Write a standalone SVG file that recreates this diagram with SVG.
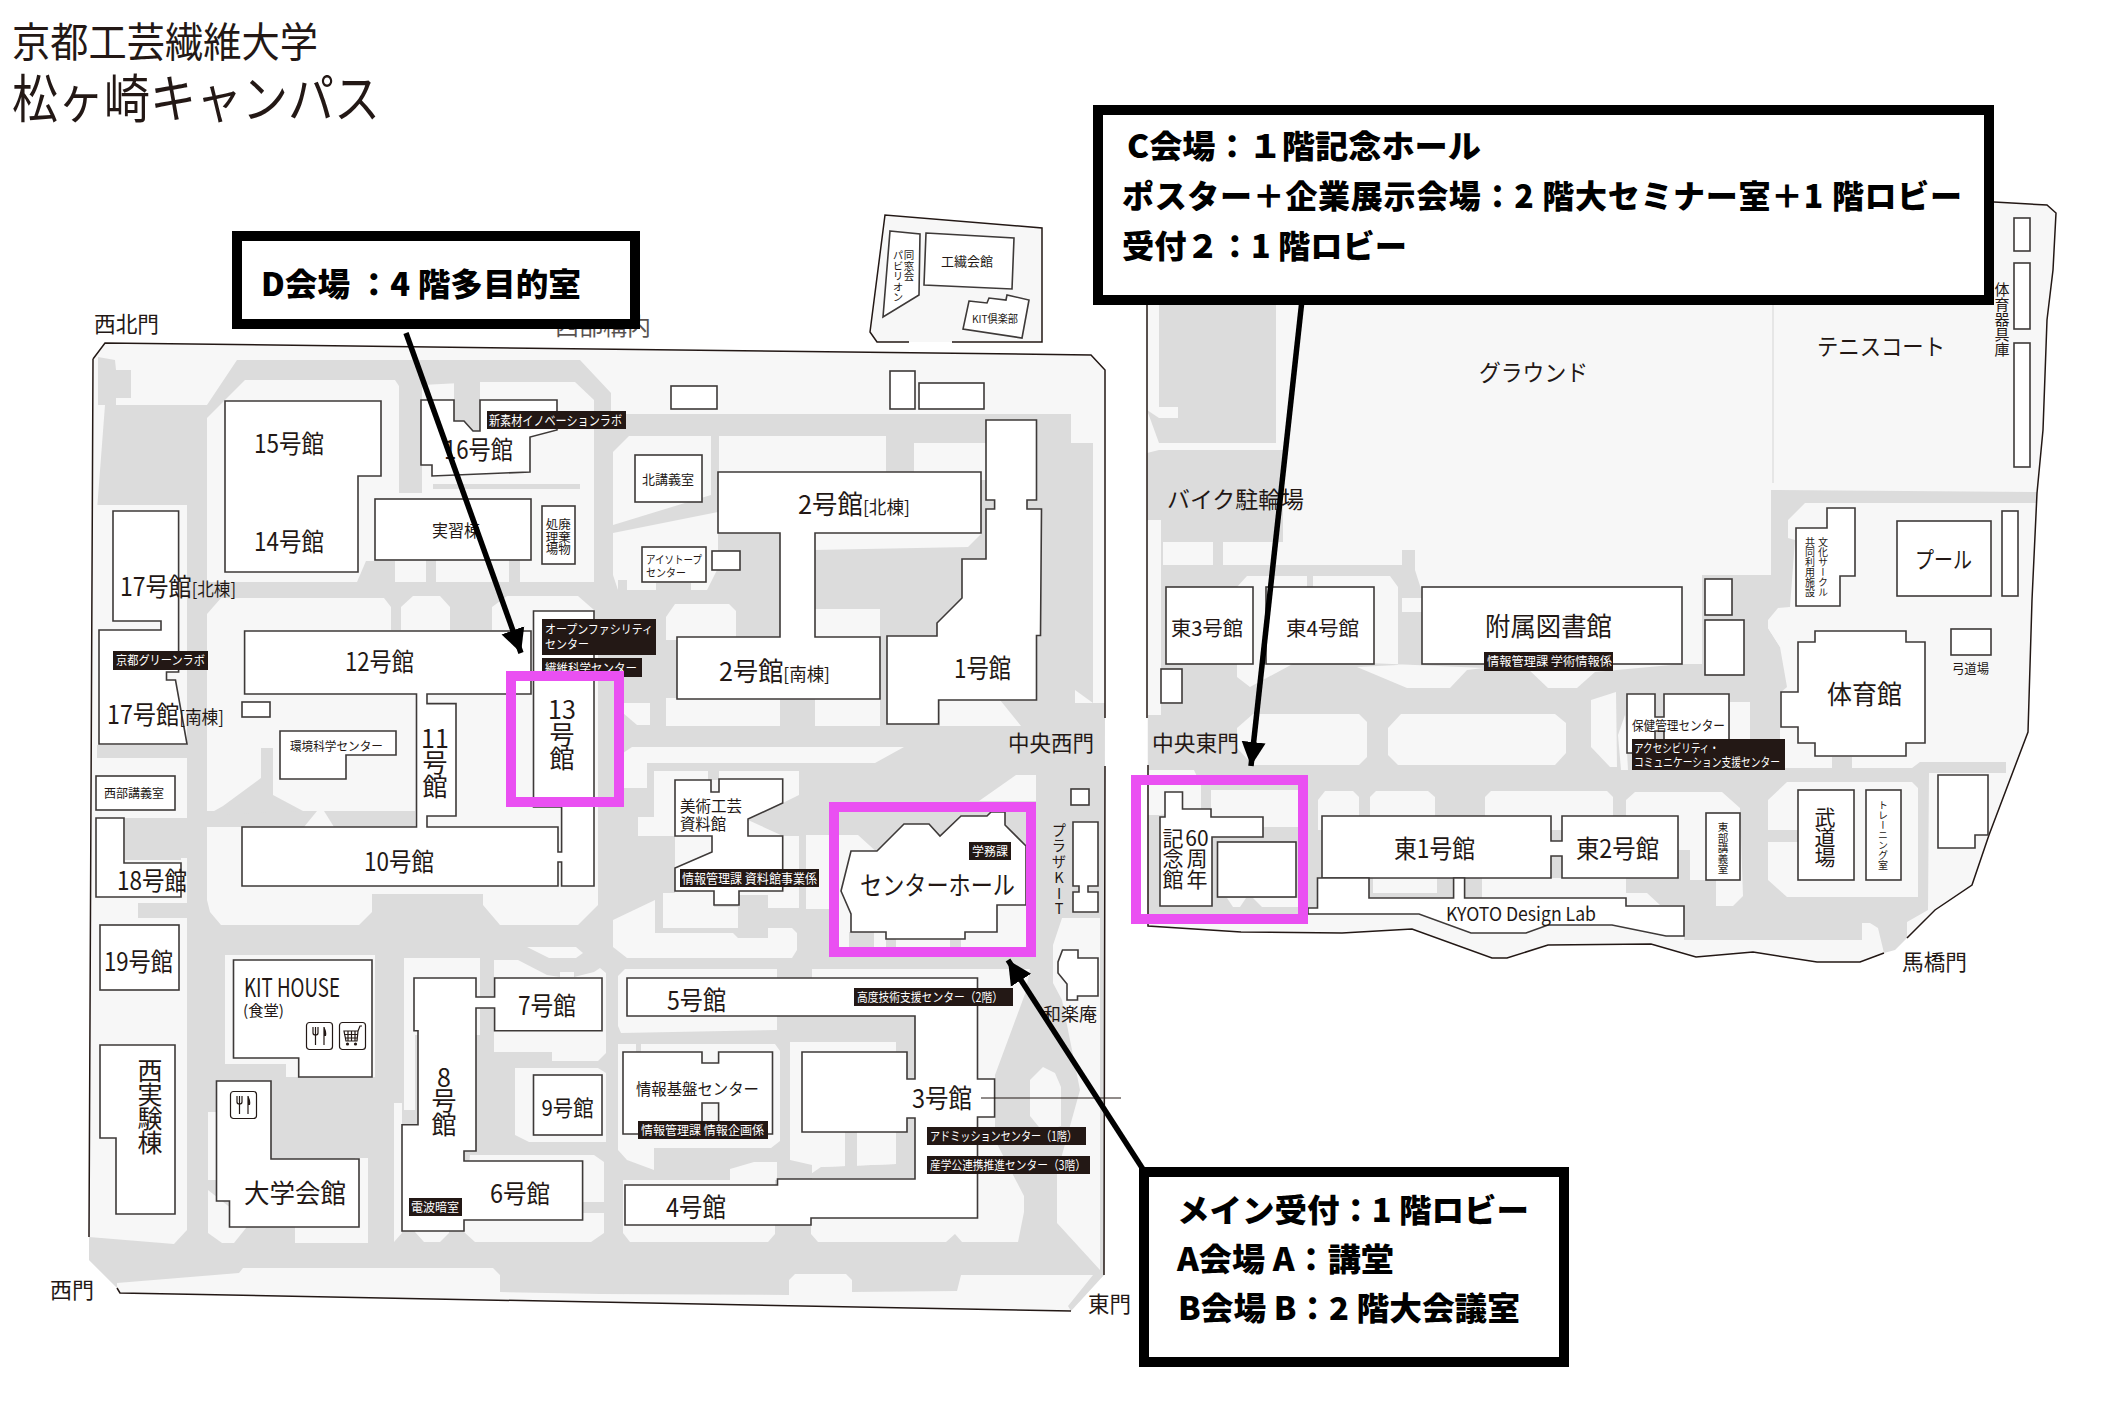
<svg xmlns="http://www.w3.org/2000/svg" width="2104" height="1426" viewBox="0 0 2104 1426">
<style>
text{font-family:"Noto Sans CJK JP","Noto Sans",sans-serif;fill:#231815;font-weight:400}
.w{fill:#fff}
.c{font-weight:900;fill:#000;font-size:32px}
.m{text-anchor:middle}
.v{writing-mode:vertical-rl}
.u{text-orientation:upright}
.bd{fill:#fff;stroke:#3e3a39;stroke-width:1.6;stroke-linejoin:miter}
.lab{fill:#231815}
.g{fill:#dcdcdc}
.l{fill:#f7f7f7}
.out{fill:none;stroke:#231815;stroke-width:1.5}
.pink{fill:none;stroke:#ea50f2;stroke-width:10}
.box{fill:#fff;stroke:#000;stroke-width:10}
.arr{fill:none;stroke:#000;stroke-width:5.5;marker-end:url(#ah)}
.ic{fill:none;stroke:#231815;stroke-width:1.2}
</style>
<defs>
<marker id="ah" markerUnits="userSpaceOnUse" markerWidth="26" markerHeight="26" refX="24" refY="13" orient="auto"><path d="M0,1 L24,13 L0,25 z" fill="#000"/></marker>
<g id="fork"><rect x="0.5" y="0.5" width="26" height="27" rx="3" class="ic"/><path d="M9.5,5 V23 M7,5 V11 Q7,13 9.5,13 Q12,13 12,11 V5 M18,5 V23" class="ic"/><path d="M18,5 Q21,9 20,14 H18 z" fill="#231815"/></g>
<g id="cart"><rect x="0.5" y="0.5" width="26" height="27" rx="3" class="ic"/><path d="M5,9 H19 L18,19 H7 z M5,12.5 H19 M6,16 H18.5 M9,9 V19 M12.5,9 V19 M16,9 V19 M19,9 L21,4 H23" class="ic"/><circle cx="8.5" cy="22" r="1.6" fill="#231815"/><circle cx="16.5" cy="22" r="1.6" fill="#231815"/></g>
</defs>

<g id="title">
<text x="12" y="57" font-size="41" textLength="306" lengthAdjust="spacingAndGlyphs">京都工芸繊維大学</text>
<text x="12" y="118" font-size="52" textLength="368" lengthAdjust="spacingAndGlyphs">松ヶ崎キャンパス</text>
</g>

<g id="grounds-west">
<polygon class="l" points="93,359 105,343 1091,355 1105,370 1104,1275 1071,1311 120,1293 117,1288 89,1260 89,1237"/>
<polygon class="g" points="89,1237 89,1260 117,1288 117,1283 239,1273 243,1268 493,1268 500,1275 500,1292 600,1294 789,1295 789,1280 795,1274 846,1274 852,1280 852,1292 957,1291 961,1275 1093,1275 1068,1306 1071,1311 1104,1275 1105,703 1093,703 1093,443 1071,443 1071,414 611,414 611,393 580,360 237,360 207,405 105,405 97,510 97,1237"/>
<polygon class="g" points="98,357 115,360 116,370 131,370 131,398 116,398 116,405 98,405"/>
<polygon class="l" points="94,505 187,505 187,1230 174,1244 89,1237"/>
<rect class="g" x="97" y="745" width="90" height="13"/>
<polygon class="g" points="125,818 187,818 187,858 181,858 181,860 125,860"/>
<rect class="g" x="138" y="903" width="49" height="15"/>
<polygon class="l" points="207,418 245,380 395,380 399,386 399,493 422,493 422,385 480,382 575,382 594,400 594,582 207,582"/>
<polygon class="g" points="454,382 480,382 480,431 473,431 464,421 454,421"/>
<rect class="g" x="433" y="484" width="147" height="5"/>
<polygon class="g" points="357,582 366,561 395,561 395,582"/>
<rect class="g" x="426" y="560" width="10" height="22"/>
<rect class="g" x="509" y="560" width="11" height="22"/>
<polygon class="l" points="207,614 221,598 384,598 391,607 391,630 401,630 401,607 413,596 440,596 450,607 450,630 492,630 492,607 507,596 578,596 594,610 598,640 598,905 578,925 500,925 483,905 483,894 372,894 372,912 359,925 221,925 210,912 207,900"/>
<rect class="g" x="207" y="811" width="208" height="16"/>
<polygon class="g" points="207,815 223,806 261,778 261,748 273,748 273,795 303,811"/>
<polygon class="l" points="304,827 317,811 324,811 334,827"/>
<polygon class="l" points="613,452 629,436 711,436 711,495 613,525"/>
<polygon class="l" points="719,436 886,436 886,480 719,480"/>
<polygon class="l" points="914,443 986,443 986,480 914,480"/>
<polygon class="l" points="814,533 982,533 968,547 814,550"/>
<rect class="l" x="814" y="609" width="66" height="30"/>
<polygon class="l" points="613,533 718,512 718,568 707,590 691,590 691,583 656,583 656,590 627,590 627,580 618,580 618,590 613,575"/>
<polygon class="l" points="666,617 675,604 729,604 736,611 736,640 666,640"/>
<rect class="l" x="666" y="698" width="114" height="28"/>
<rect class="l" x="815" y="698" width="65" height="28"/>
<polygon class="l" points="940,700 1000,700 1021,726 940,726"/>
<polygon class="l" points="623,703 650,703 650,725 637,725 623,713"/>
<polygon class="l" points="1075,703 1093,703 1075,690"/>
<polygon class="l" points="620,755 632,747 904,747 875,763 647,763 647,788 620,788"/>
<polygon class="l" points="654,771 708,771 708,780 719,780 719,771 799,771 799,795 748,820 783,836 799,836 799,908 783,908 783,895 675,895 675,836 638,836 638,817 654,817"/>
<polygon class="l" points="613,920 655,900 655,933 733,933 738,938 768,938 768,928 792,928 797,933 797,950 792,958 627,958 613,947"/>
<polygon class="l" points="663,893 714,893 714,907 738,907 738,928 663,928"/>
<polygon class="l" points="768,892 783,892 783,908 768,908"/>
<polygon class="l" points="806,835 858,835 880,855 880,905 1030,905 1030,955 839,955 839,909 806,909"/>
<rect class="g" x="886" y="939" width="10" height="9"/>
<rect class="g" x="950" y="939" width="11" height="9"/>
<rect class="g" x="849" y="932" width="25" height="16"/>
<polygon class="l" points="979,801 1016,775 1036,775 1036,801"/>
<polygon class="l" points="625,969 777,969 777,1030 621,1033 618,1026 618,976"/>
<polygon class="l" points="812,969 1030,969 1025,994 995,1075 995,1140 1024,1196 1024,1212 1018,1242 962,1242 955,1234 955,1212 812,1200"/>
<polygon class="g" points="777,1014 915,1014 915,1178 805,1178 821,1167 896,1164 896,1042 790,1042 790,1160 777,1160"/>
<polygon class="l" points="790,1042 896,1042 896,1164 821,1167 790,1160"/>
<rect class="g" x="845" y="1132" width="12" height="36"/>
<polygon class="l" points="618,1044 775,1044 780,1051 780,1141 771,1148 654,1148 654,1170 627,1160 618,1150"/>
<rect class="g" x="636" y="1042" width="5" height="10"/>
<polygon class="l" points="730,1169 754,1162 777,1162 777,1180 730,1180"/>
<polygon class="l" points="623,1180 775,1180 775,1234 768,1242 630,1242 623,1233"/>
<polygon class="l" points="811,1210 955,1210 955,1234 946,1242 818,1242 811,1234"/>
<polygon class="l" points="404,958 480,958 480,1035 415,1035 415,1110 404,1110"/>
<polygon class="l" points="494,960 518,960 547,975 560,977 560,972 574,972 574,977 594,972 600,968 606,973 606,1053 598,1061 552,1061 552,1052 494,1052"/>
<polygon class="l" points="527,947 576,947 583,953 576,958 549,958"/>
<polygon class="l" points="515,1068 598,1068 606,1073 606,1142 529,1142 515,1135"/>
<polygon class="l" points="394,1103 402,1103 402,1233 394,1242"/>
<polygon class="l" points="415,1225 449,1225 449,1233 440,1242 424,1242 415,1232"/>
<polygon class="l" points="464,1225 470,1155 594,1155 604,1162 604,1233 591,1242 475,1242 464,1232"/>
<rect class="g" x="583" y="1202" width="21" height="11"/>
<polygon class="l" points="225,955 375,955 375,1077 286,1077 286,1064 225,1064"/>
<rect class="l" x="208" y="1112" width="12" height="68"/>
<polygon class="l" points="208,1190 246,1220 246,1228 234,1243 222,1243 208,1233"/>
<rect class="l" x="295" y="1222" width="73" height="21"/>
<rect class="l" x="355" y="1158" width="13" height="70"/>
<polygon class="l" points="1062,918 1100,918 1100,1270 1057,1223 1057,1173 1080,1090 1062,1000 1053,983 1053,945"/>
<polygon class="l" points="1043,1067 1055,1073 1061,1087 1061,1126 1043,1132 1030,1116 1030,1080"/>
<path class="out" d="M93,359 L105,343 L1091,355 L1105,370 L1105,718 M1105,766 L1104,1275 M1071,1311 L120,1293 L117,1288 M89,1237 L93,359"/>
</g>

<g id="grounds-east">
<polygon class="l" points="1147,250 1147,926 1241,932 1342,933 1412,929 1492,958 1507,958 1548,945 1651,944 1696,957 1753,952 1817,962 1860,962 1884,953 1907,938 1935,910 1972,885 1989,835 2028,732 2032,600 2037,493 2043,430 2047,320 2053,270 2056,213 2047,205 1994,202"/>
<rect class="g" x="1159" y="305" width="117" height="138"/>
<polygon class="g" points="1147,410 1159,418 1159,443 1147,410"/>
<rect class="l" x="1159" y="407" width="19" height="11"/>
<polygon class="g" points="1147,453 1159,450 1283,450 1283,565 1402,565 1402,550 1415,550 1415,570 1422,592 1422,664 1702,664 1702,575 1771,575 1771,490 2037,492 2037,503 1805,503 1788,520 1788,538 1795,540 1790,607 1778,608 1768,620 1768,628 1780,647 1787,687 1780,693 1780,768 1832,768 1832,757 1852,757 1852,768 1912,768 1920,762 2006,762 2006,773 1929,773 1928,910 1907,922 1907,938 1895,950 1884,953 1878,928 1870,923 1862,923 1862,940 1684,940 1684,905 1660,905 1647,893 1626,893 1300,915 1148,915 1148,520 1161,520 1161,535 1147,520"/>
<rect class="l" x="1163" y="542" width="50" height="23"/>
<rect class="l" x="1223" y="542" width="60" height="23"/>
<rect class="l" x="1148" y="520" width="13" height="195"/>
<rect class="l" x="1161" y="690" width="21" height="14"/>
<polygon class="l" points="1237,587 1247,576 1307,576 1307,587 1313,587 1313,576 1390,576 1398,587 1398,665 1357,667 1407,688 1450,688 1467,670 1484,668 1300,660 1250,687 1237,677"/>
<rect class="l" x="1402" y="598" width="20" height="14"/>
<polygon class="l" points="1527,668 1548,688 1577,688 1595,672 1682,664 1520,664"/>
<polygon class="l" points="1237,728 1253,714 1359,714 1367,722 1367,757 1359,765 1253,765 1237,748"/>
<polygon class="l" points="1388,728 1401,714 1555,714 1566,723 1566,753 1555,765 1398,765 1388,755"/>
<polygon class="l" points="1591,700 1616,692 1617,767 1610,767 1591,747"/>
<polygon class="l" points="1621,770 1618,735 1625,715 1628,770"/>
<polygon class="l" points="1730,702 1750,702 1750,767 1730,767"/>
<polygon class="l" points="1785,727 1798,745 1832,757 1832,768 1785,768"/>
<polygon class="l" points="1768,628 1778,612 1790,607 1800,628 1790,638 1780,647"/>
<polygon class="l" points="1148,770 1194,770 1201,785 1201,809 1160,815 1148,815"/>
<polygon class="l" points="1211,790 1298,790 1298,827 1211,827"/>
<polygon class="l" points="1227,898 1246,898 1240,907 1233,907"/>
<polygon class="l" points="1253,898 1298,898 1298,907 1262,907"/>
<polygon class="l" points="1318,800 1325,791 1353,791 1359,797 1359,830 1318,830"/>
<polygon class="l" points="1370,797 1376,791 1428,791 1435,797 1435,830 1370,830"/>
<polygon class="l" points="1485,797 1491,791 1607,791 1613,797 1613,830 1485,830"/>
<polygon class="l" points="1626,800 1635,792 1722,792 1740,808 1743,896 1733,906 1716,906 1716,880 1690,880 1690,850 1626,850"/>
<rect class="l" x="1373" y="878" width="64" height="15"/>
<rect class="l" x="1482" y="878" width="144" height="20"/>
<polygon class="l" points="1768,800 1787,782 1912,782 1918,788 1918,897 1787,897 1768,880 1768,842 1798,842 1798,830 1768,830"/>
<rect x="1772" y="305" width="2" height="178" fill="#e6e6e6"/>
<path class="out" d="M1147,305 V718 M1148,765 V926 L1241,932 L1342,933 L1412,929 L1492,958 L1507,958 L1548,945 L1651,944 L1696,957 L1753,952 L1817,962 L1860,962 L1884,953 M1907,938 L1935,910 L1972,885 L1989,835 L2028,732 L2032,600 L2037,493 L2043,430 L2047,320 L2053,270 L2056,213 L2047,205 L1994,202"/>
</g>

<g id="annex">
<path d="M885,215 L1042,228 V342 H877 L870,332 Z" class="l"/>
<path class="out" d="M909,342 H877 L870,332 L885,215 L1042,228 V342 H952"/>
<polygon class="bd" points="890,231 920,234 919,295 883,317"/>
<text x="909" y="250" class="v" font-size="10.5">同窓会</text>
<text x="898" y="250" class="v" font-size="10.5">パビリオン</text>
<polygon class="bd" points="926,233 1014,238 1012,289 924,285"/>
<text x="941" y="266" font-size="13" textLength="52" lengthAdjust="spacingAndGlyphs">工繊会館</text>
<polygon class="bd" points="969,301 987,303 989,298 1006,300 1007,295 1029,300 1022,338 963,329"/>
<text x="972" y="323" font-size="11" textLength="46" lengthAdjust="spacingAndGlyphs">KIT倶楽部</text>
</g>

<g id="gate-labels">
<text x="94" y="332" font-size="22" textLength="65" lengthAdjust="spacingAndGlyphs">西北門</text>
<text x="555" y="335" font-size="24" textLength="96" lengthAdjust="spacingAndGlyphs" opacity=".75">西部構内</text>
<text x="1008" y="751" font-size="22" textLength="86" lengthAdjust="spacingAndGlyphs">中央西門</text>
<text x="1088" y="1312" font-size="22" textLength="43" lengthAdjust="spacingAndGlyphs">東門</text>
<text x="50" y="1298" font-size="22" textLength="44" lengthAdjust="spacingAndGlyphs">西門</text>
<text x="1152" y="751" font-size="22" textLength="87" lengthAdjust="spacingAndGlyphs">中央東門</text>
<text x="1902" y="970" font-size="22" textLength="65" lengthAdjust="spacingAndGlyphs">馬橋門</text>
<text x="1059" y="823" class="v u" font-size="14.5" letter-spacing="1.2">プラザKIT</text>
</g>

<g id="n-rects">
<rect class="bd" x="671" y="386" width="46" height="23"/>
<rect class="bd" x="890" y="371" width="25" height="38"/>
<rect class="bd" x="919" y="383" width="65" height="26"/>
<rect class="bd" x="242" y="702" width="28" height="15"/>
<rect class="bd" x="712" y="551" width="28" height="19"/>
<rect class="bd" x="1071" y="789" width="18" height="16"/>
<rect class="bd" x="1161" y="669" width="21" height="34"/>
<rect class="bd" x="1705" y="579" width="27" height="36"/>
<rect class="bd" x="1705" y="620" width="39" height="55"/>
<rect class="bd" x="2014" y="218" width="16" height="33"/>
<rect class="bd" x="2014" y="263" width="16" height="66"/>
<rect class="bd" x="2014" y="343" width="16" height="124"/>
<rect class="bd" x="2002" y="511" width="16" height="85"/>
<polygon class="bd" points="1938,775 1988,775 1988,835 1975,835 1975,848 1938,848"/>
<polygon class="bd" points="1073,822 1098,822 1098,886 1088,886 1088,892 1098,892 1098,912 1073,912 1073,892 1079,892 1079,886 1073,886"/>
</g>

<g id="b15-14">
<polygon class="bd" points="225,401 381,401 381,476 358,476 358,572 225,572"/>
<text x="254" y="453" font-size="25" textLength="70" lengthAdjust="spacingAndGlyphs">15号館</text>
<text x="254" y="551" font-size="25" textLength="70" lengthAdjust="spacingAndGlyphs">14号館</text>
</g>
<g id="b16">
<polygon class="bd" points="421,400 454,400 454,421 464,421 473,431 480,431 480,400 557,400 557,430 530,437 530,472 432,476 432,465 421,465"/>
<text x="444" y="459" font-size="25" textLength="69" lengthAdjust="spacingAndGlyphs">16号館</text>
<rect class="lab" x="487" y="411" width="139" height="18"/>
<text x="489" y="425" class="w" font-size="13" textLength="133" lengthAdjust="spacingAndGlyphs">新素材イノベーションラボ</text>
</g>
<g id="jisshu">
<rect class="bd" x="375" y="499" width="156" height="61"/>
<text x="432" y="537" font-size="17" textLength="48" lengthAdjust="spacingAndGlyphs">実習棟</text>
</g>
<g id="haiki">
<rect class="bd" x="542" y="506" width="33" height="58"/>
<text x="564.5" y="518" class="v" font-size="12.5">廃棄物</text>
<text x="552" y="518" class="v" font-size="12.5">処理場</text>
</g>
<g id="kita">
<rect class="bd" x="635" y="455" width="67" height="47"/>
<text x="642" y="484" font-size="13" textLength="52" lengthAdjust="spacingAndGlyphs">北講義室</text>
</g>
<g id="iso">
<rect class="bd" x="642" y="547" width="64" height="35"/>
<text x="646" y="564" font-size="11" textLength="56" lengthAdjust="spacingAndGlyphs">アイソトープ</text>
<text x="646" y="577" font-size="11" textLength="40" lengthAdjust="spacingAndGlyphs">センター</text>
</g>
<g id="b2">
<polygon class="bd" points="718,472 981,472 981,533 815,533 815,637 880,637 880,699 677,699 677,637 780,637 780,533 718,533"/>
<text x="798" y="514" font-size="26" textLength="112" lengthAdjust="spacingAndGlyphs">2号館<tspan font-size="18">[北棟]</tspan></text>
<text x="719" y="681" font-size="26" textLength="111" lengthAdjust="spacingAndGlyphs">2号館<tspan font-size="18">[南棟]</tspan></text>
</g>
<g id="b1">
<polygon class="bd" points="986,420 1036.5,420 1036.5,500 1027,500 1027,509 1041.5,509 1040.5,635.5 1036.5,635.5 1036.5,700 938.6,700 938.6,724 887,724 887,636 937,636 937,623 962,598 962,559 986,559 986,509 994.6,509 994.6,500 986,500"/>
<text x="954" y="678" font-size="26" textLength="57" lengthAdjust="spacingAndGlyphs">1号館</text>
</g>
<g id="b17">
<polygon class="bd" points="113,511 178.6,511 178.6,672 166.5,672 166.5,680 175.5,680 187,744 99,744 99,630 161,630 161,621 113,621"/>
<text x="120" y="596" font-size="25" textLength="116" lengthAdjust="spacingAndGlyphs">17号館<tspan font-size="18">[北棟]</tspan></text>
<rect class="lab" x="113" y="651" width="95" height="19"/>
<text x="116" y="665" class="w" font-size="12.5" textLength="89" lengthAdjust="spacingAndGlyphs">京都グリーンラボ</text>
<text x="107" y="724" font-size="25" textLength="117" lengthAdjust="spacingAndGlyphs">17号館<tspan font-size="18">[南棟]</tspan></text>
</g>
<g id="b10-13">
<path class="bd" d="M533.5,611 H594 V886 H561.6 V862 H558 V886 H242 V827 H416.5 V694 H244.6 V631 H531 V694 H427 V703.6 H456 V816 H427 V827 H558 V852 H561.6 V807 H533.5 Z"/>
<text x="345" y="671" font-size="25" textLength="69" lengthAdjust="spacingAndGlyphs">12号館</text>
<text x="364" y="871" font-size="25" textLength="70" lengthAdjust="spacingAndGlyphs">10号館</text>
<text class="m" font-size="25"><tspan x="562" y="719">13</tspan><tspan x="562" y="744">号</tspan><tspan x="562" y="768">館</tspan></text>
<text class="m" font-size="25"><tspan x="435" y="748">11</tspan><tspan x="435" y="772">号</tspan><tspan x="435" y="796">館</tspan></text>
<rect class="lab" x="542" y="619" width="114" height="36"/>
<text x="545" y="634" class="w" font-size="12" textLength="108" lengthAdjust="spacingAndGlyphs">オープンファシリティ</text>
<text x="545" y="649" class="w" font-size="12" textLength="44" lengthAdjust="spacingAndGlyphs">センター</text>
<rect class="lab" x="542" y="658" width="100" height="19"/>
<text x="545" y="673" class="w" font-size="12.5" textLength="92" lengthAdjust="spacingAndGlyphs">繊維科学センター</text>
</g>
<g id="kankyo">
<polygon class="bd" points="280,731 396,731 396,755 346,755 346,779 280,779"/>
<text x="290" y="751" font-size="12.5" textLength="93" lengthAdjust="spacingAndGlyphs">環境科学センター</text>
</g>
<g id="seibu">
<rect class="bd" x="96" y="776" width="79" height="34"/>
<text x="104" y="798" font-size="12.5" textLength="60" lengthAdjust="spacingAndGlyphs">西部講義室</text>
</g>
<g id="b18">
<polygon class="bd" points="96,818 124,818 124,863 181,863 181,897 96,897"/>
<text x="117" y="890" font-size="25" textLength="70" lengthAdjust="spacingAndGlyphs">18号館</text>
</g>
<g id="b19">
<rect class="bd" x="100" y="925" width="79" height="65"/>
<text x="104" y="971" font-size="25" textLength="69" lengthAdjust="spacingAndGlyphs">19号館</text>
</g>
<g id="nishi">
<polygon class="bd" points="100,1045 175,1045 175,1214 116,1214 116,1138 100,1138"/>
<text class="m" font-size="25"><tspan x="150" y="1080">西</tspan><tspan x="150" y="1104">実</tspan><tspan x="150" y="1128">験</tspan><tspan x="150" y="1152">棟</tspan></text>
</g>
<g id="kithouse">
<polygon class="bd" points="233.5,960 372,960 372,1077 298.7,1077 298.7,1058 233.5,1058"/>
<text x="244" y="997" font-size="25" textLength="96" lengthAdjust="spacingAndGlyphs">KIT HOUSE</text>
<text x="243" y="1016" font-size="15" textLength="41" lengthAdjust="spacingAndGlyphs">(食堂)</text>
<use href="#fork" x="306" y="1022"/>
<use href="#cart" x="339" y="1022"/>
</g>
<g id="kaikan">
<polygon class="bd" points="216.5,1081 271,1081 271,1159 359,1159 359,1227 229.5,1227 229.5,1201 216.5,1201"/>
<use href="#fork" x="230" y="1091"/>
<text x="244" y="1203" font-size="26" textLength="102" lengthAdjust="spacingAndGlyphs">大学会館</text>
</g>
<g id="b6-7-8">
<polygon class="bd" points="414,978 476,978 476,997 494.6,997 494.6,978 602,978 602,1030.7 494.6,1030.7 494.6,1008 476,1008 476,1151 464,1151 464,1161 582.6,1161 582.6,1220 464,1220 464,1231 402,1231 402,1124.7 418,1124.7 418,1030.7 414,1030.7"/>
<text x="518" y="1015" font-size="25" textLength="58" lengthAdjust="spacingAndGlyphs">7号館</text>
<text x="490" y="1203" font-size="25" textLength="60" lengthAdjust="spacingAndGlyphs">6号館</text>
<text class="m" font-size="25"><tspan x="444" y="1087">8</tspan><tspan x="444" y="1110">号</tspan><tspan x="444" y="1134">館</tspan></text>
<rect class="lab" x="409" y="1198" width="53" height="18"/>
<text x="411" y="1212" class="w" font-size="12" textLength="48" lengthAdjust="spacingAndGlyphs">電波暗室</text>
</g>
<g id="b9">
<rect class="bd" x="533.5" y="1075" width="68.5" height="60"/>
<text x="541.5" y="1116" font-size="22" textLength="52" lengthAdjust="spacingAndGlyphs">9号館</text>
</g>
<g id="b3-4-5">
<polygon class="bd" points="627,978 977.5,978 977.5,1079 994.6,1079 994.6,1117 977.5,1117 977.5,1218 811,1218 811,1225 625,1225 625,1185 777.5,1185 777.5,1179 915,1179 915,1118 907,1118 907,1132 802,1132 802,1052 907,1052 907,1079 915,1079 915,1016 627,1016"/>
<text x="667" y="1010" font-size="26" textLength="59" lengthAdjust="spacingAndGlyphs">5号館</text>
<text x="666" y="1217" font-size="26" textLength="60" lengthAdjust="spacingAndGlyphs">4号館</text>
<text x="912" y="1107.5" font-size="26" textLength="60" lengthAdjust="spacingAndGlyphs">3号館</text>
<line x1="981" y1="1098" x2="1121" y2="1098" stroke="#231815" stroke-width="1"/>
<rect class="lab" x="854" y="988" width="159" height="18"/>
<text x="857" y="1002" class="w" font-size="12.5" textLength="146" lengthAdjust="spacingAndGlyphs">高度技術支援センター（2階）</text>
<rect class="lab" x="927" y="1127" width="159" height="18"/>
<text x="930" y="1141" class="w" font-size="12.5" textLength="147" lengthAdjust="spacingAndGlyphs">アドミッションセンター（1階）</text>
<rect class="lab" x="927" y="1156" width="163" height="18"/>
<text x="930" y="1170" class="w" font-size="12.5" textLength="156" lengthAdjust="spacingAndGlyphs">産学公連携推進センター（3階）</text>
</g>
<g id="joho">
<polygon class="bd" points="623,1052 702,1052 702,1063 718.6,1063 718.6,1052 772.5,1052 772.5,1134 718.6,1134 718.6,1103 702,1103 702,1134 623,1134"/>
<text x="636" y="1095" font-size="16" textLength="123" lengthAdjust="spacingAndGlyphs">情報基盤センター</text>
<rect class="lab" x="638" y="1121" width="130" height="18"/>
<text x="641" y="1135" class="w" font-size="12.5" textLength="123" lengthAdjust="spacingAndGlyphs">情報管理課 情報企画係</text>
</g>
<g id="bijutsu">
<polygon class="bd" points="675,780 711,780 711,792 719,792 719,779 782.7,779 782.7,803 748,819 748,836 782.7,836 782.7,891 739,891 739,905 714,905 714,891 675,891 675,868 712,852 712,836 675,836"/>
<text x="680" y="812" font-size="15.5" textLength="62" lengthAdjust="spacingAndGlyphs">美術工芸</text>
<text x="680" y="830" font-size="15.5" textLength="46" lengthAdjust="spacingAndGlyphs">資料館</text>
<rect class="lab" x="680" y="869" width="139" height="18"/>
<text x="682" y="883" class="w" font-size="13" textLength="135" lengthAdjust="spacingAndGlyphs">情報管理課 資料館事業係</text>
</g>
<g id="center-hall">
<polygon class="bd" points="851,851 877,851 904,824 929,824 940,836 961,816 987,816 991,812 1005,812 1005,825 1026,846 1026,905 997,905 997,932 965,932 965,939 886,939 886,932 851,932 851,914 841,891"/>
<text x="860" y="895" font-size="26" textLength="155" lengthAdjust="spacingAndGlyphs">センターホール</text>
<rect class="lab" x="969" y="842" width="42" height="18"/>
<text x="972" y="856" class="w" font-size="12.5" textLength="36" lengthAdjust="spacingAndGlyphs">学務課</text>
</g>
<g id="wara">
<polygon class="bd" points="1062.5,950 1078,950 1078,958 1098,958 1098,996 1077.5,996 1077.5,1000 1067,1000 1067,984 1058,973 1058,962"/>
<text x="1043" y="1021" font-size="18" textLength="54" lengthAdjust="spacingAndGlyphs">和楽庵</text>
</g>
<g id="e3">
<rect class="bd" x="1166" y="587" width="87" height="77"/>
<text x="1171" y="636" font-size="20" textLength="72" lengthAdjust="spacingAndGlyphs">東3号館</text>
</g>
<g id="e4">
<rect class="bd" x="1266" y="587" width="108" height="77"/>
<text x="1286" y="636" font-size="20" textLength="73" lengthAdjust="spacingAndGlyphs">東4号館</text>
</g>
<g id="library">
<rect class="bd" x="1422" y="587" width="260" height="77"/>
<text x="1485" y="636" font-size="26" textLength="127" lengthAdjust="spacingAndGlyphs">附属図書館</text>
<rect class="lab" x="1484" y="652" width="129" height="19"/>
<text x="1487" y="666" class="w" font-size="12.5" textLength="125" lengthAdjust="spacingAndGlyphs">情報管理課 学術情報係</text>
</g>
<g id="east-labels">
<text x="1167" y="508" font-size="23" textLength="137" lengthAdjust="spacingAndGlyphs">バイク駐輪場</text>
<text x="1479" y="381" font-size="23" textLength="109" lengthAdjust="spacingAndGlyphs">グラウンド</text>
<text x="1817" y="355" font-size="23" textLength="128" lengthAdjust="spacingAndGlyphs">テニスコート</text>
<text x="2002" y="282" class="v" font-size="15">体育器具庫</text>
<text x="1952" y="673" font-size="13" textLength="37" lengthAdjust="spacingAndGlyphs">弓道場</text>
</g>
<g id="bunka">
<polygon class="bd" points="1827,508 1855,508 1855,576 1840,576 1840,606 1796,606 1796,528 1827,528"/>
<text x="1823" y="537" class="v" font-size="10">文化サークル</text>
<text x="1810" y="537" class="v" font-size="10">共同利用施設</text>
</g>
<g id="pool">
<rect class="bd" x="1897" y="521" width="94" height="75"/>
<text x="1915" y="568" font-size="23" textLength="57" lengthAdjust="spacingAndGlyphs">プール</text>
</g>
<rect class="bd" x="1951" y="629" width="40" height="26"/>
<g id="gym">
<polygon class="bd" points="1815,631 1906,631 1906,642 1925,642 1925,743 1906,743 1906,756 1815,756 1815,743 1798,743 1798,727 1781,727 1781,692 1798,692 1798,642 1815,642"/>
<text x="1827" y="704" font-size="26" textLength="75" lengthAdjust="spacingAndGlyphs">体育館</text>
</g>
<g id="hoken">
<polygon class="bd" points="1627,694 1655,694 1655,717 1664,717 1664,694 1729,694 1729,740 1664,740 1664,731 1655,731 1655,740 1655,753 1627,753"/>
<text x="1632" y="730" font-size="13" textLength="93" lengthAdjust="spacingAndGlyphs">保健管理センター</text>
<rect class="lab" x="1632" y="739" width="153" height="31"/>
<text x="1634" y="753" class="w" font-size="12" textLength="85" lengthAdjust="spacingAndGlyphs">アクセシビリティ・</text>
<text x="1634" y="767" class="w" font-size="12" textLength="146" lengthAdjust="spacingAndGlyphs">コミュニケーション支援センター</text>
</g>
<g id="e1-2">
<polygon class="bd" points="1322,816 1551,816 1551,841 1562,841 1562,816 1678,816 1678,878 1562,878 1562,856 1551,856 1551,878 1322,878"/>
<text x="1394" y="858" font-size="25" textLength="81" lengthAdjust="spacingAndGlyphs">東1号館</text>
<text x="1576" y="858" font-size="25" textLength="83" lengthAdjust="spacingAndGlyphs">東2号館</text>
</g>
<g id="kdl">
<polygon class="bd" points="1317.5,878 1369,878 1369,898 1453.6,898 1453.6,878 1464.6,878 1464.6,898 1626,898 1626,906 1684,906 1684,936 1666,936 1612,925 1548,925 1526,933 1471,933 1419,914 1308,914 1308,908 1317.5,908"/>
<text x="1446" y="921" font-size="19" textLength="150" lengthAdjust="spacingAndGlyphs">KYOTO Design Lab</text>
</g>
<g id="tobu">
<rect class="bd" x="1706" y="813" width="34" height="67"/>
<text x="1723" y="822" class="v" font-size="10.5">東部講義室</text>
</g>
<g id="budo">
<rect class="bd" x="1798" y="790" width="56" height="90"/>
<text class="m" font-size="21"><tspan x="1825" y="825">武</tspan><tspan x="1825" y="845">道</tspan><tspan x="1825" y="865">場</tspan></text>
</g>
<g id="train">
<rect class="bd" x="1866" y="790" width="35" height="90"/>
<text x="1883" y="800" class="v" font-size="10">トレーニング室</text>
</g>
<g id="kinen">
<polygon class="bd" points="1165,792 1182.5,792 1182.5,809 1211,809 1211,817 1263,817 1263,837 1212,837 1212,906 1160,906 1160,817 1165,817"/>
<rect class="bd" x="1217.5" y="842" width="78.5" height="55"/>
<text class="m" font-size="21"><tspan x="1197" y="846">60</tspan><tspan x="1197" y="866">周</tspan><tspan x="1197" y="887">年</tspan></text>
<text class="m" font-size="21"><tspan x="1173" y="846">記</tspan><tspan x="1173" y="866">念</tspan><tspan x="1173" y="887">館</tspan></text>
</g>

<g id="highlights">
<rect class="pink" x="511" y="676" width="108" height="126"/>
<rect class="pink" x="834" y="807" width="197" height="145"/>
<rect class="pink" x="1136" y="780" width="167" height="139"/>
</g>

<g id="connectors">
<line class="arr" x1="406" y1="333" x2="521" y2="653"/>
<line class="arr" x1="1302" y1="300" x2="1251" y2="766"/>
<line class="arr" x1="1148" y1="1177" x2="1008" y2="960"/>
</g>

<g id="callout-d">
<rect class="box" x="237" y="236" width="398" height="88"/>
<text x="261" y="296" class="c" textLength="320" lengthAdjust="spacingAndGlyphs">D会場 ：4 階多目的室</text>
</g>
<g id="callout-c">
<rect class="box" x="1098" y="110" width="891" height="190"/>
<text x="1127" y="158" class="c" textLength="354" lengthAdjust="spacingAndGlyphs">C会場：１階記念ホール</text>
<text x="1122" y="208" class="c" textLength="840" lengthAdjust="spacing">ポスター＋企業展示会場：2 階大セミナー室＋1 階ロビー</text>
<text x="1122" y="258" class="c" textLength="285" lengthAdjust="spacingAndGlyphs">受付２：1 階ロビー</text>
</g>
<g id="callout-main">
<rect class="box" x="1144" y="1172" width="420" height="190"/>
<text x="1177" y="1222" class="c" textLength="352" lengthAdjust="spacingAndGlyphs">メイン受付：1 階ロビー</text>
<text x="1177" y="1271" class="c" textLength="217" lengthAdjust="spacingAndGlyphs">A会場 A：講堂</text>
<text x="1178" y="1320" class="c" textLength="342" lengthAdjust="spacingAndGlyphs">B会場 B：2 階大会議室</text>
</g>
</svg>
